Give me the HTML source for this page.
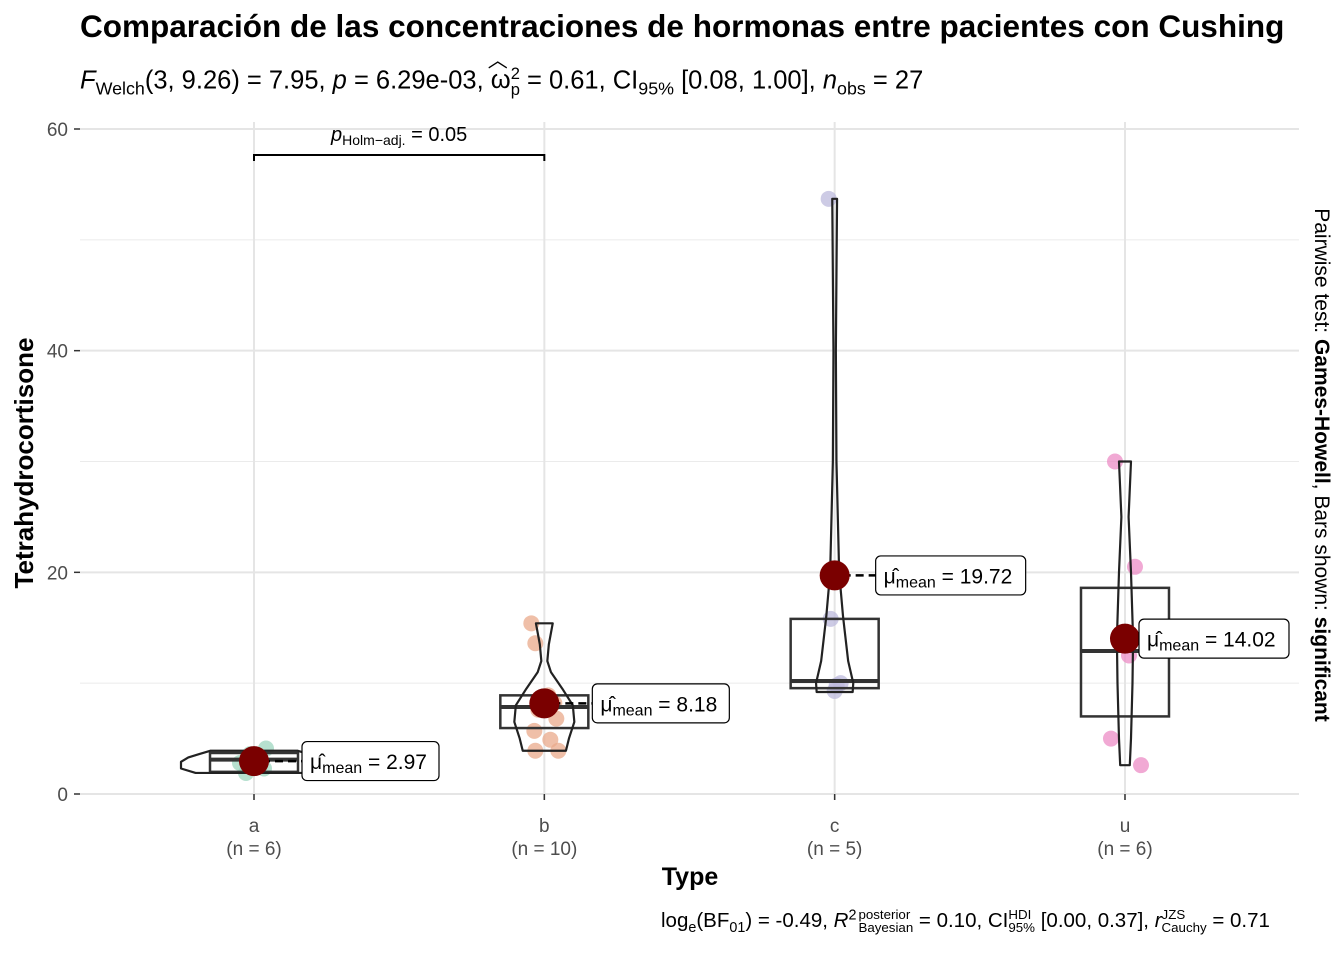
<!DOCTYPE html>
<html><head><meta charset="utf-8"><style>
body{margin:0;background:#fff;font-family:"Liberation Sans",Arial,sans-serif;}
#wrap{position:relative;width:1344px;height:960px;overflow:hidden;}
.t{position:absolute;white-space:nowrap;color:#000;}
sub,sup{font-size:70%;line-height:0;}
.st{display:inline-block;vertical-align:middle;line-height:0.95;font-size:65%;}
</style></head><body>
<div id="wrap">
<div class="t" style="left:80px;top:8px;font-size:31.5px;font-weight:bold;">Comparación de las concentraciones de hormonas entre pacientes con Cushing</div>
<div class="t" style="left:80px;top:66px;font-size:25.5px;"><i>F</i><sub>Welch</sub>(3, 9.26) = 7.95, <i>p</i> = 6.29e-03, <span style="position:relative">ω<span style="position:absolute;left:-3px;top:-22px;font-size:20px">︿</span></span><span class="st">2<br>p</span> = 0.61, CI<sub>95%</sub> [0.08, 1.00], <i>n</i><sub>obs</sub> = 27</div>
<div class="t" style="left:661px;top:909px;font-size:20.5px;">log<sub>e</sub>(BF<sub>01</sub>) = -0.49, <i>R</i><sup>2</sup><span class="st" style="margin-left:2px">posterior<br>Bayesian</span> = 0.10, CI<span class="st">HDI<br>95%</span> [0.00, 0.37], <i>r</i><span class="st">JZS<br>Cauchy</span> = 0.71</div>
<svg id="plot" width="1344" height="960" style="position:absolute;left:0;top:0"></svg>
</div>
<script>
const categories=["a","b","c","u"];
const counts=[6,10,5,6];
const means=[2.97,8.18,19.72,14.02];
const q1=[2.0,5.95,9.55,7.0];
const medians=[3.1,7.85,10.2,12.9];
const q3=[3.7,8.9,15.8,18.6];
const pointsA=[1.9,2.3,2.8,3.1,3.6,4.1];
const pointsB=[15.4,13.6,8.9,8.2,7.6,6.8,5.7,4.9,3.9,3.9];
const pointsC=[53.7,15.8,10.0,9.8,9.3];
const pointsU=[30.0,20.5,13.5,12.5,5.0,2.6];
const jitterA=[-8,10,-14,6,-4,12];
const jitterB=[-13,-9,4,10,-6,12,-10,6,-9,14];
const jitterC=[-6,-4,6,2,0];
const jitterU=[-10,10,-4,4,-14,16];
// violin profiles: [value, relative half-width]
const violinA=[[1.9,0.8],[2.3,1.0],[2.9,1.0],[3.3,0.9],[3.6,0.75],[3.9,0.6]];
const violinB=[[3.9,0.72],[5,0.82],[6.5,1.0],[8,0.95],[9.5,0.6],[11,0.22],[12,0.1],[13.5,0.15],[15.4,0.28]];
const violinC=[[9.2,0.6],[10,0.62],[12,0.45],[16,0.28],[20,0.15],[30,0.06],[40,0.04],[53.7,0.08]];
const violinU=[[2.6,0.16],[5,0.2],[10,0.25],[14,0.27],[20,0.2],[25,0.12],[30,0.2]];
const violinScale=[73,30,30,30];
const labelOffset=[48,48,41,14];
const yTicks=[0,20,40,60];
const yMinor=[10,30,50];
const colors=["#9ed6bf","#eaa98b","#bcb9dc","#ec8cc6"];
const points=[pointsA,pointsB,pointsC,pointsU];
const jitters=[jitterA,jitterB,jitterC,jitterU];
const violins=[violinA,violinB,violinC,violinU];

const svg=document.getElementById('plot');
const NS='http://www.w3.org/2000/svg';
const X0=80,X1=1299,Y0=794,Y60=129;
const y=v=>Y0-(v/60)*(Y0-Y60);
const x=i=>254+i*290.33;
function el(t,a,p){const e=document.createElementNS(NS,t);for(const k in a)e.setAttribute(k,a[k]);(p||svg).appendChild(e);return e;}

yMinor.forEach(v=>{const g=el('line',{x1:X0,x2:X1,y1:y(v),y2:y(v),stroke:'#ebebeb','stroke-width':1});

});
yTicks.forEach(v=>{const g=el('line',{x1:X0,x2:X1,y1:y(v),y2:y(v),stroke:'#e5e5e5','stroke-width':2});


const tk=el('line',{x1:74,x2:80,y1:y(v),y2:y(v),stroke:'#333','stroke-width':1.5});


const t=el('text',{x:68,y:y(v)+7,'text-anchor':'end','font-size':19,fill:'#4d4d4d'});t.textContent=v;

});
categories.forEach((c,i)=>{const g=el('line',{x1:x(i),x2:x(i),y1:122,y2:800,stroke:'#e5e5e5','stroke-width':2});


const tk=el('line',{x1:x(i),x2:x(i),y1:794,y2:800,stroke:'#333','stroke-width':1.5});


const t=el('text',{x:x(i),y:832,'text-anchor':'middle','font-size':19,fill:'#4d4d4d'});t.textContent=c;


const t2=el('text',{x:x(i),y:855,'text-anchor':'middle','font-size':19,fill:'#4d4d4d'});t2.textContent='(n = '+counts[i]+')';

});

categories.forEach((c,i)=>{
  const cx=x(i);
  points[i].forEach((v,j)=>{const p=el('circle',{cx:cx+jitters[i][j],cy:y(v),r:8,fill:colors[i],'fill-opacity':0.75});
  
  });
  const bw=44;
  const b=el('rect',{x:cx-bw,y:y(q3[i]),width:2*bw,height:y(q1[i])-y(q3[i]),fill:'none',stroke:'#333','stroke-width':2.5});
  
  
  const m=el('line',{x1:cx-bw,x2:cx+bw,y1:y(medians[i]),y2:y(medians[i]),stroke:'#333','stroke-width':4});
  
  
  const pr=violins[i],s=violinScale[i];
  let d='M'+pr.map(q=>(cx+q[1]*s)+','+y(q[0])).join(' L');
  d+=' L'+pr.slice().reverse().map(q=>(cx-q[1]*s)+','+y(q[0])).join(' L')+' Z';
  const vp=el('path',{d:d,fill:'none',stroke:'#222','stroke-width':2.2,'stroke-linejoin':'round'});
  
  
  const my=y(means[i]);
  const off=labelOffset[i];
  const dl=el('line',{x1:cx+8,x2:cx+off,y1:my,y2:my,stroke:'#000','stroke-width':2.5,'stroke-dasharray':'8,5'});
  
  
  const md=el('circle',{cx:cx,cy:my,r:15,fill:'#7a0000'});
  
  
  const lw=means[i]>=10?150:137;
  const lb=el('rect',{x:cx+off,y:my-19.5,width:lw,height:39,rx:5,fill:'#fff',stroke:'#000','stroke-width':1.2});
  
  
  const lt=el('text',{x:cx+off+8,y:my+8,'font-size':21});
  
  
  lt.innerHTML='<tspan>μ̂</tspan><tspan font-size="16" dy="4">mean</tspan><tspan dy="-4"> = '+means[i].toFixed(2)+'</tspan>';
});

const br=el('path',{d:`M${x(0)},161 L${x(0)},155 L${x(1)},155 L${x(1)},161`,fill:'none',stroke:'#000','stroke-width':2});


const bt=el('text',{x:(x(0)+x(1))/2,y:141,'text-anchor':'middle','font-size':20});


bt.innerHTML='<tspan font-style="italic">p</tspan><tspan font-size="14" dy="4">Holm−adj.</tspan><tspan dy="-4"> = 0.05</tspan>';

const xt=el('text',{x:690,y:885,'text-anchor':'middle','font-size':25,'font-weight':'bold'});xt.textContent='Type';


const yt=el('text',{x:0,y:0,'text-anchor':'middle','font-size':26,'font-weight':'bold',transform:'translate(33,463) rotate(-90)'});yt.textContent='Tetrahydrocortisone';


const rt=el('text',{x:0,y:0,'text-anchor':'middle','font-size':21,transform:'translate(1315,465) rotate(90)'});


rt.innerHTML='Pairwise test: <tspan font-weight="bold">Games-Howell</tspan>, Bars shown: <tspan font-weight="bold">significant</tspan>';
</script>
</body></html>
